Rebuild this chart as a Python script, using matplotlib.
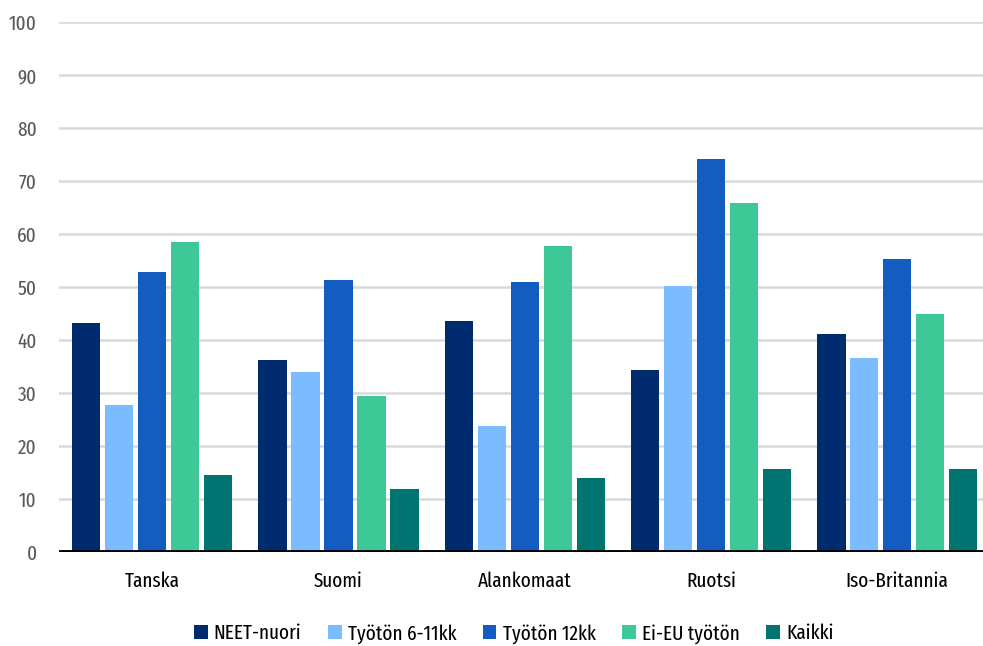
import numpy as np
import matplotlib
matplotlib.use("Agg")
import matplotlib.pyplot as plt

countries = ["Tanska", "Suomi", "Alankomaat", "Ruotsi", "Iso-Britannia"]
series = ["NEET-nuori", "Työtön 6-11kk", "Työtön 12kk", "Ei-EU työtön", "Kaikki"]
neet = [43.2, 36.2, 43.5, 34.3, 41.1]
tyoton_6_11 = [27.7, 34.0, 23.7, 50.1, 36.6]
tyoton_12 = [52.9, 51.4, 50.9, 74.2, 55.3]
ei_eu = [58.5, 29.5, 57.7, 65.9, 45.0]
kaikki = [14.5, 11.9, 14.0, 15.6, 15.6]
colors = ["#002B6E", "#7ABCFF", "#135CC0", "#3EC797", "#007470"]

plt.rcParams["font.family"] = ["Fira Sans Extra Condensed", "DejaVu Sans"]

fig = plt.figure(figsize=(9.83, 6.46), dpi=100)
ax = fig.add_axes([59 / 983, 94 / 646, 924 / 983, 530 / 646])

x = np.arange(len(countries))
step, width = 0.177, 0.152
for i, (vals, lab, c) in enumerate(zip([neet, tyoton_6_11, tyoton_12, ei_eu, kaikki], series, colors)):
    ax.bar(x + (i - 2) * step, vals, width, color=c, label=lab, zorder=3)

ax.set_ylim(0, 100)
ax.set_xlim(-0.5, 4.46)
ax.set_yticks(range(0, 101, 10))
ax.yaxis.grid(True, color="#d9d9d9", lw=1.8, zorder=0)
ax.axhline(0, color="black", lw=3.5, zorder=4)
for s in ax.spines.values():
    s.set_visible(False)
ax.tick_params(axis="y", length=0, pad=16, labelsize=15, labelcolor="#595959")
ax.tick_params(axis="x", length=0, pad=14, labelsize=15)
ax.set_xticks(x)
ax.set_xticklabels(countries)

ax.legend(loc="upper center", bbox_to_anchor=(0.492, -0.1), ncol=5, frameon=False,
          fontsize=15, handlelength=0.67, handleheight=0.67, handletextpad=0.3,
          columnspacing=1.25)

fig.savefig("out.png", dpi=100)
